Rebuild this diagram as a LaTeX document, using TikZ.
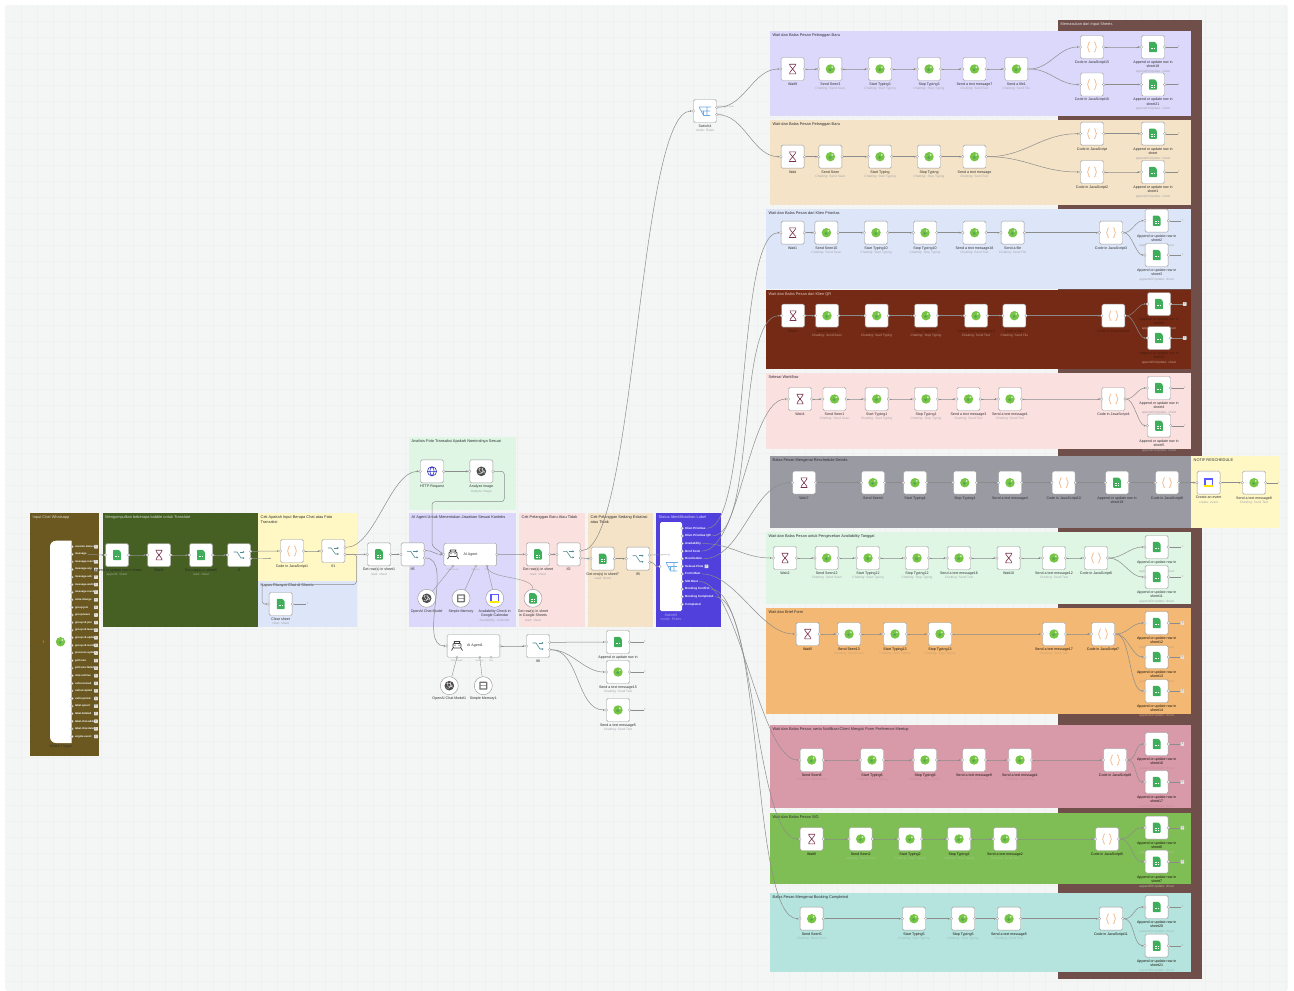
\documentclass[tikz,border=0pt]{standalone}
\usepackage{fontspec}
\setmainfont{Liberation Sans}
\usetikzlibrary{arrows.meta,calc}
\definecolor{canvasc}{HTML}{F4F5F5}
\definecolor{gridc}{HTML}{EFF0F0}
\definecolor{olivec}{HTML}{6A5820}
\definecolor{dgreenc}{HTML}{466024}
\definecolor{yelc}{HTML}{FFF8C5}
\definecolor{bluec}{HTML}{DDE6F8}
\definecolor{mintc}{HTML}{DFF6E5}
\definecolor{purc}{HTML}{DCD8FC}
\definecolor{pinkc}{HTML}{FBE0E0}
\definecolor{tanc}{HTML}{F4E3C6}
\definecolor{indc}{HTML}{5140DC}
\definecolor{brownc}{HTML}{704E4A}
\definecolor{redc}{HTML}{742A14}
\definecolor{greyc}{HTML}{999AA2}
\definecolor{orangec}{HTML}{F3B873}
\definecolor{rosec}{HTML}{D89AA9}
\definecolor{grassc}{HTML}{7FBD55}
\definecolor{tealc}{HTML}{B5E3DD}
\definecolor{linec}{HTML}{8C8C8C}
\definecolor{labc}{HTML}{2F2F35}
\definecolor{subc}{HTML}{A5A5AC}
\definecolor{gsheet}{HTML}{3FAE5A}
\definecolor{wagreen}{HTML}{77C545}
\definecolor{hourc}{HTML}{7A2E4D}
\definecolor{codec}{HTML}{F2BE92}
\definecolor{swc}{HTML}{4E8A93}
\definecolor{filtc}{HTML}{6AA9E9}
\tikzset{
 nbox/.style={draw=black!40,fill=white,rounded corners=1.5pt,minimum width=23pt,minimum height=23pt,inner sep=0pt,line width=.45pt},
 cbox/.style={draw=black!40,fill=white,circle,minimum size=18pt,inner sep=0pt,line width=.45pt},
 abox/.style={draw=black!40,fill=white,rounded corners=1.5pt,minimum width=52.7pt,minimum height=22.5pt,inner sep=0pt,line width=.45pt},
 lab/.style={anchor=north,align=center,inner sep=0pt,text=labc,font=\fontsize{3.6}{4.5}\selectfont},
 ptitle/.style={anchor=north west,align=left,inner sep=0pt,font=\fontsize{3.9}{4.8}\selectfont},
 tiny/.style={inner sep=0pt,text=subc,font=\fontsize{2.2}{2.6}\selectfont},
 pill/.style={anchor=west,inner sep=0pt,text=white,font=\bfseries\fontsize{2.7}{3}\selectfont},
 conn/.style={draw=linec,line width=.5pt,shorten >=1.4pt,shorten <=1.2pt,-{Stealth[length=2pt,width=2pt]}},
 stub/.style={draw=linec,line width=.4pt,shorten <=1.2pt},
 aux/.style={draw=linec,line width=.35pt},
 port/.style={fill=white,draw=black!40,line width=.3pt},
 tailplain/.style={inner sep=0pt,text=linec,font=\fontsize{3}{3}\selectfont},
 tailbox/.style={inner sep=0pt,minimum size=3.6pt,fill=black!12,rounded corners=.4pt,text=black!60,font=\fontsize{3}{3}\selectfont},
 tailst/.style={tailplain},
 plusbox/.style={inner sep=0pt,minimum size=3.6pt,fill=black!12,rounded corners=.4pt,text=black!60,font=\fontsize{3}{3}\selectfont},
}
\newcommand{\oneport}[1]{\filldraw[port] (#1.east) circle (1.3);}
\newcommand{\twoport}[1]{\coordinate (#1-a) at ($(#1.east)+(0,-3.7)$);\coordinate (#1-b) at ($(#1.east)+(0,3.7)$);\filldraw[port] (#1-a) circle (1.3);\filldraw[port] (#1-b) circle (1.3);}
\let\portsheet\oneport \let\portwa\oneport \let\portwait\oneport \let\portcode\oneport
\let\portglobe\oneport \let\portknot\oneport \let\portcal\oneport
\let\portsw\twoport \let\portfl\twoport
\newcommand{\iconsheet}{\fill[gsheet,rounded corners=.7] (-3.8,-5.2) -- (1.6,-5.2) -- (3.8,-3) -- (3.8,5.2) -- (-3.8,5.2) -- cycle;\fill[white] (-1.9,.5) rectangle (1.9,3.2);\fill[gsheet] (-.2,.5) rectangle (.2,3.2);\fill[gsheet] (-1.9,1.6) rectangle (1.9,2);}
\newcommand{\iconwa}{\fill[wagreen] (0,0) circle (4.7);\fill[green!45!black!65] (-.4,.8) circle (1.5);\fill[white!70!wagreen] (1.8,-1.8) circle (1);}
\newcommand{\iconwait}{\draw[hourc,line width=.6pt] (-3.4,-4.8) -- (3.4,-4.8) (-3.4,4.8) -- (3.4,4.8) (-2.7,-4.8) -- (-2.7,-3.3) -- (2.7,3.3) -- (2.7,4.8) (2.7,-4.8) -- (2.7,-3.3) -- (-2.7,3.3) -- (-2.7,4.8);}
\newcommand{\iconcode}{\draw[codec,line width=.8pt] (-2.2,-5) .. controls (-4,-5) and (-2.8,-1) .. (-4.4,0) .. controls (-2.8,1) and (-4,5) .. (-2.2,5) (2.2,-5) .. controls (4,-5) and (2.8,-1) .. (4.4,0) .. controls (2.8,1) and (4,5) .. (2.2,5);}
\newcommand{\iconsw}{\draw[swc,line width=.6pt,-{Stealth[length=1.8pt,width=2pt]}] (-5.5,-3) -- (-2,-3) -- (2,3) -- (5.5,3);\draw[swc,line width=.6pt,-{Stealth[length=1.8pt,width=2pt]}] (.5,-3) -- (5.5,-3);}
\newcommand{\iconfl}{\draw[filtc,line width=.6pt] (-6,-4) -- (6,-4) (-6,-4) -- (-1.5,4.5) -- (5,4.5) (-3.8,0) -- (5,0) (-1.5,0) -- (-1.5,4.5) (2,-4) -- (2,4.5);}
\newcommand{\iconglobe}{\draw[blue!70!black!80,line width=.6pt] (0,0) circle (4.6) (0,-4.6) .. controls (-2.8,-2) and (-2.8,2) .. (0,4.6) .. controls (2.8,2) and (2.8,-2) .. (0,-4.6) (-4.6,0) -- (4.6,0);}
\newcommand{\iconknot}{\fill[black!70] (0,0) circle (4.8);\draw[white,line width=.3pt] (-3,-2) .. controls (0,-4) and (3,-1) .. (3,2) (-3,2) .. controls (0,4) and (2,1) .. (1,-3.5) (-2,-3.5) .. controls (-3,0) and (0,3) .. (3.5,0);}
\newcommand{\iconcal}{\fill[blue!65] (-4.5,-4.5) rectangle (4.5,4.5);\fill[yellow!90!orange] (-4.5,2.5) rectangle (4.5,4.5);\fill[white] (-3,-3) rectangle (3,2.5);}
\newcommand{\iconmem}{\fill[black!55,rounded corners=.6] (-4,-4) rectangle (4,4);\fill[white] (-2.6,-2.6) rectangle (2.6,-.4) (-2.6,.4) rectangle (2.6,2.6);}
\newcommand{\iconrobot}{\draw[black!75,line width=.7pt,rounded corners=.8] (-4,-2.5) rectangle (4,2);\fill[black!75] (-2,-.8) circle (.7) (2,-.8) circle (.7);\draw[black!75,line width=.7pt] (-5.5,4.5) -- (-4,2) (5.5,4.5) -- (4,2) (-2,-2.5) -- (-3,-4.5) (2,-2.5) -- (3,-4.5) (-3,-4.5) -- (3,-4.5);}
% node: id x y kind label sub
\newcommand{\nd}[6]{\node[nbox] (#1) at (#2,#3) {};
 \filldraw[port] (#1.west) circle (1.3);
 \csname port#4\endcsname{#1}
 \begin{scope}[shift={(#2,#3)}]\csname icon#4\endcsname\end{scope}
 \node[lab] (#1-l) at (#2,#3+13.5) {#5\\{\fontsize{3.2}{4.4}\selectfont\color{subc}#6}};}
\newcommand{\cnd}[6]{\node[cbox] (#1) at (#2,#3) {};
 \begin{scope}[shift={(#2,#3)}]\csname icon#4\endcsname\end{scope}
 \node[lab] (#1-l) at (#2,#3+11) {#5\\{\fontsize{3.2}{4.4}\selectfont\color{subc}#6}};}
\newcommand{\cApp}{appendOrUpdate: sheet}
\newcommand{\cSeen}{Chatting: Send Seen}
\newcommand{\cStart}{Chatting: Start Typing}
\newcommand{\cStop}{Chatting: Stop Typing}
\newcommand{\cText}{Chatting: Send Text}
\newcommand{\cFile}{Chatting: Send File}
\newcommand{\tlb}[1]{\path (#1.east) ++(14,0) node[tailst] (#1-t) {+};\draw[stub] (#1.east) -- (#1-t);}
\newcommand{\shn}[4]{\nd{#1}{#2}{#3}{sheet}{Append or update row in\\#4}{\cApp}\tlb{#1}}
\newcommand{\lnk}[3][14pt]{\draw[conn] (#2.east) to[out=0,in=180,distance=#1] (#3.west);}
\newcommand{\lnks}[1]{\foreach \fa/\fb in {#1}{\lnk{\fa}{\fb}}}
\newcommand{\panel}[7]{\fill[#5] (#1,#2) rectangle (#3,#4);\node[ptitle,text=#7] at (#1+2.5,#2+2.5) {#6};}
\begin{document}
\begin{tikzpicture}[x=1pt,y=-1pt]
\useasboundingbox (0,0) rectangle (1294,991);
\fill[white] (0,0) rectangle (1294,991);
\fill[canvasc,rounded corners=3] (5,5) rectangle (1288,991);
\foreach \gx in {21,37,...,1285}{\draw[gridc,line width=.2pt] (\gx,5) -- (\gx,991);}
\foreach \gy in {21,37,...,990}{\draw[gridc,line width=.2pt] (5,\gy) -- (1288,\gy);}
% ---------- panels
\panel{1058}{20}{1202}{979}{brownc}{Memasukan dari Input Sheets}{white!85!brownc}
\panel{30}{513}{99}{755.5}{olivec}{Input Chat Whatsapp}{white!75!olivec}
\panel{102.7}{513}{258}{627}{dgreenc}{Mengumpulkan beberapa bubble untuk Translate}{white!75!dgreenc}
\panel{258}{513}{357}{581}{yelc}{Cek Apakah Input Berupa Chat atau Foto\\Transaksi}{labc}
\panel{258}{581}{357}{627}{bluec}{Hapus Riwayat Chat di Sheets}{labc}
\panel{409}{437}{516}{510}{mintc}{Analisis Foto Transaksi Apakah Nominalnya Sesuai}{labc}
\panel{409}{513}{516}{627}{purc}{AI Agent Untuk Menentukan Jawaban Sesuai Konteks}{labc}
\panel{519}{513}{585}{627}{pinkc}{Cek Pelanggan Baru Atau Tidak}{labc}
\panel{588}{513}{653}{627}{tanc}{Cek Pelanggan Sedang Eskalasi\\atau Tidak}{labc}
\panel{656}{513}{721}{627}{indc}{Status Identifikasikan Label}{white!75!indc}
\panel{770}{31}{1191}{116}{purc}{Wait dan Balas Pesan Pelanggan Baru}{labc}
\panel{770}{120}{1191}{205}{tanc}{Wait dan Balas Pesan Pelanggan Baru}{labc}
\panel{766}{209}{1191}{289}{bluec}{Wait dan Balas Pesan dari Klien Prioritas}{labc}
\panel{766}{290}{1191}{369}{redc}{Wait dan Balas Pesan dari Klien QR}{white!75!redc}
\panel{766}{373}{1191}{449}{pinkc}{Selesai Workflow}{labc}
\panel{770}{456}{1191}{528}{greyc}{Balas Pesan Mengenai Reschedule Details}{labc}
\panel{1191}{456}{1279}{528}{yelc}{NOTIF RESCHEDULE}{labc}
\panel{766}{532}{1191}{604}{mintc}{Wait dan Balas Pesan untuk Pengecekan Availability Tanggal}{labc}
\panel{766}{608}{1191}{714}{orangec}{Wait dan Brief Form}{labc}
\panel{770}{725}{1191}{808}{rosec}{Wait dan Balas Pesan, serta Notifikasi Client Mengisi Form Preference Meetup}{labc}
\panel{770}{813}{1191}{884}{grassc}{Wait dan Balas Pesan SIG}{labc}
\panel{770}{893}{1191}{972}{tealc}{Balas Pesan Mengenai Booking Completed}{labc}
% ---------- trigger
\fill[white,rounded corners=6] (71.7,540.7) -- (50,540.7) -- (50,743) [sharp corners] -- (71.7,743) -- cycle;
\node[inner sep=0pt,minimum width=21.7pt,minimum height=202pt] (trg) at (60.8,641.8) {};
\begin{scope}[shift={(60.5,641.8)}]\iconwa\end{scope}
\node[lab,text=black!80] (trg-l) at (60.8,745) {WAHA Trigger};
\fill[orange!80!black] (43.3,640.3) -- (44.2,640.3) -- (43.8,641.5) -- (44.6,641.5) -- (43,643.4) -- (43.3,642) -- (42.6,642) -- cycle;
\foreach \nm [count=\i] in {session.status,message,message.reaction,message.any,message.ack,message.waiting,message.revoked,state.change,group.join,group.leave,group.v2.join,group.v2.leave,group.v2.update,group.v2.member,presence.update,poll.vote,poll.vote.failed,chat.archive,call.received,call.accepted,call.rejected,label.upsert,label.deleted,label.chat.added,label.chat.deleted,engine.event}{
 \pgfmathsetmacro{\ty}{546.7+7.59*(\i-1)}
 \filldraw[port] (72,\ty) circle (1.3);
 \node[pill] (t\i) at (74.8,\ty) {\nm};
 \ifnum\i=2\else\node[plusbox] (tp\i) at (96,\ty) {+};\fi
}
% ---------- dark green group
\colorlet{labc}{black!85}
\colorlet{subc}{white!45!dgreenc}
\nd{g1}{117}{555}{sheet}{Append or update row in sheet}{append: sheet}
\nd{g2}{159}{555}{wait}{Wait8}{}
\nd{g3}{201}{555}{sheet}{Get row(s) in sheet5}{read: sheet}
\nd{g4}{239}{555}{sw}{If}{}
\colorlet{labc}{black!82}
\definecolor{subc}{HTML}{A5A5AC}
% ---------- yellow / blue groups
\nd{y1}{292}{551}{code}{Code in JavaScript1}{}
\nd{y2}{333.3}{551}{sw}{If1}{}
\nd{y3}{280.7}{604}{sheet}{Clear sheet}{clear: sheet}
\path (y3.east) ++(15,0) node[tailplain] (y3-t) {+};
\coordinate (g4-e) at (270,558.3);
% ---------- middle row
\nd{m1}{379}{554.3}{sheet}{Get row(s) in sheet1}{read: sheet}
\nd{m2}{412.7}{554.3}{sw}{If6}{}
\node[abox] (ag) at (470.3,554.5) {};
\filldraw[port] (ag.west) circle (1.3); \filldraw[port] (ag.east) circle (1.3);
\begin{scope}[shift={(453,554.5)}]\iconrobot\end{scope}
\node[inner sep=0pt,text=labc,font=\fontsize{3.6}{4}\selectfont] (ag-t) at (470.5,554.5) {AI Agent};
\nd{m3}{538}{554.3}{sheet}{Get row(s) in sheet}{read: sheet}
\nd{m4}{568.7}{554.3}{sw}{If2}{}
\nd{m5}{602.7}{558.7}{sheet}{Get row(s) in sheet7}{read: sheet}
\nd{m6}{638}{558.7}{sw}{If5}{}
\nd{h1}{432}{471.3}{globe}{HTTP Request}{}
\nd{h2}{481.3}{471.3}{knot}{Analyze image}{Analyze image}
\cnd{c1}{426.7}{598.3}{knot}{OpenAI Chat Model}{}
\cnd{c2}{461}{598.3}{mem}{Simple Memory}{}
\cnd{c3}{494.7}{598.3}{cal}{Availability Check in\\Google Calendar}{Availability: Calendar}
\cnd{c4}{533}{598.3}{sheet}{Get row(s) in sheet\\in Google Sheets}{read: sheet}
\coordinate (p1) at (453,566);\coordinate (p2) at (475.7,566);\coordinate (p3) at (487,566);
\foreach \pp in {p1,p2,p3}{\filldraw[port] (\pp) circle (1.2);}
\node[tiny] (p1-l) at (453,570) {Chat Model*};
\node[tiny] (p2-l) at (475.7,570) {Memory};
\node[tiny] (p3-l) at (487,570) {Tool};
% ---------- lower agent
\node[abox] (ag2) at (473.5,646) {};
\filldraw[port] (ag2.west) circle (1.3); \filldraw[port] (ag2.east) circle (1.3);
\begin{scope}[shift={(457,646)}]\iconrobot\end{scope}
\node[inner sep=0pt,text=labc,font=\fontsize{3.6}{4}\selectfont] (ag2-t) at (475,646) {AI Agent1};
\nd{n1}{538}{646}{sw}{If8}{}
\nd{n2}{618}{642}{sheet}{Append or update row in}{}
\nd{n3}{618}{672}{wa}{Send a text message15}{\cText}
\nd{n4}{618}{710}{wa}{Send a text message5}{\cText}
\cnd{c5}{449.3}{685.7}{knot}{OpenAI Chat Model1}{}
\cnd{c6}{483.3}{685.7}{mem}{Simple Memory1}{}
\coordinate (q1) at (457,657.2);\coordinate (q2) at (479.7,657.2);\coordinate (q3) at (491,657.2);
\foreach \pp in {q1,q2,q3}{\filldraw[port] (\pp) circle (1.2);}
\node[tiny] (q1-l) at (457,661) {Chat Model*};
\node[tiny] (q2-l) at (479.7,661) {Memory};
\node[tiny] (q3-l) at (491,661) {Tool};
\foreach \nn in {n2,n3,n4}{\path (\nn.east) ++(15,0) node[tailplain] (\nn-t) {+};\draw[stub] (\nn.east) -- (\nn-t);}
% ---------- indigo switch
\node[nbox,draw=none,minimum width=22pt,minimum height=89pt] (s5) at (671,566.5) {};
\filldraw[port] (s5.west) circle (1.3);
\begin{scope}[shift={(672,566.5)}]\iconfl\end{scope}
\node[lab,text=white!60!indc] (s5-l) at (671,613.5) {Switch5\\{\color{white!50!indc}mode: Rules}};
\foreach \nm [count=\i] in {Klien Prioritas,Klien Prioritas QR,Availability,Brief Form,Reschedule,Selesai Flow,Form Meet,SIG Meet,Booking Confirm,Booking Completed,Completed}{
 \pgfmathsetmacro{\ty}{528.3+7.6*(\i-1)}
 \filldraw[port] (682.3,\ty) circle (1.3);
 \node[pill,font=\bfseries\fontsize{3}{3}\selectfont] (o\i) at (685,\ty) {\nm};
}
\node[plusbox] (o6-p) at (706.5,566.3) {+};
\node[tailplain,minimum size=3pt,fill=black!10,circle] (m6-t) at (668.7,554.7) {};
% ---------- switch 4
\nd{sw}{705}{111}{fl}{Switch4}{mode: Rules}
\node[tiny,anchor=west] (sw-al) at (718,107.3) {Pelanggan Baru};
\node[tiny,anchor=west] (sw-bl) at (718,114.7) {Baru};
% ---------- row A
\colorlet{labc}{black!82}
\nd{a1}{792.6}{69}{wait}{Wait9}{}
\nd{a2}{830.4}{69}{wa}{Send Seen3}{\cSeen}
\nd{a3}{880}{69}{wa}{Start Typing3}{\cStart}
\nd{a4}{929}{69}{wa}{Stop Typing3}{\cStop}
\nd{a5}{974.5}{69}{wa}{Send a text message7}{\cText}
\nd{a6}{1016.4}{69}{wa}{Send a file1}{\cFile}
\nd{a7}{1092}{47}{code}{Code in JavaScript15}{}
\nd{a8}{1092}{84.5}{code}{Code in JavaScript16}{}
\shn{a9}{1153}{47}{sheet18}
\shn{a10}{1153}{84.5}{sheet21}
% ---------- row B
\nd{b1}{792.6}{156.7}{wait}{Wait}{}
\nd{b2}{830.4}{156.7}{wa}{Send Seen}{\cSeen}
\nd{b3}{880}{156.7}{wa}{Start Typing}{\cStart}
\nd{b4}{929}{156.7}{wa}{Stop Typing}{\cStop}
\nd{b5}{974.5}{156.7}{wa}{Send a text message}{\cText}
\nd{b6}{1092}{133.7}{code}{Code in JavaScript}{}
\nd{b7}{1092}{172}{code}{Code in JavaScript2}{}
\shn{b8}{1153}{133.7}{sheet}
\shn{b9}{1153}{172}{sheet1}
% ---------- row C
\nd{c1x}{792.6}{232.7}{wait}{Wait1}{}
\nd{c2x}{826.4}{232.7}{wa}{Send Seen10}{\cSeen}
\nd{c3x}{876}{232.7}{wa}{Start Typing10}{\cStart}
\nd{c4x}{925}{232.7}{wa}{Stop Typing10}{\cStop}
\nd{c5x}{974.5}{232.7}{wa}{Send a text message18}{\cText}
\nd{c6x}{1012.7}{232.7}{wa}{Send a file}{\cFile}
\nd{c7x}{1111}{232.7}{code}{Code in JavaScript3}{}
\shn{c8x}{1156.7}{220.7}{sheet2}
\shn{c9x}{1156.7}{255}{sheet3}
% ---------- row D (dark)
\definecolor{labc}{HTML}{4A1B0D}
\definecolor{subc}{HTML}{C29C8C}
\tikzset{tailst/.style={tailbox}}
\nd{d1}{793}{315.7}{wait}{Wait3}{}
\nd{d2}{827}{315.7}{wa}{Send Seen11}{\cSeen}
\nd{d3}{876.7}{315.7}{wa}{Start Typing11}{\cStart}
\nd{d4}{926}{315.7}{wa}{Stop Typing11}{\cStop}
\nd{d5}{976}{315.7}{wa}{Send a text message19}{\cText}
\nd{d6}{1014.4}{315.7}{wa}{Send a file2}{\cFile}
\nd{d7}{1113.4}{315.7}{code}{Code in JavaScript2}{}
\shn{d8}{1159}{304}{sheet8}
\shn{d9}{1159}{338}{sheet9}
% ---------- row E
\definecolor{labc}{HTML}{2F2F35}
\definecolor{subc}{HTML}{A5A5AC}
\tikzset{tailst/.style={tailplain}}
\nd{e1}{800}{399}{wait}{Wait4}{}
\nd{e2}{834.5}{399}{wa}{Send Seen1}{\cSeen}
\nd{e3}{876.7}{399}{wa}{Start Typing1}{\cStart}
\nd{e4}{926}{399}{wa}{Stop Typing1}{\cStop}
\nd{e5}{968.5}{399}{wa}{Send a text message3}{\cText}
\nd{e6}{1010}{399}{wa}{Send a text message1}{\cText}
\nd{e7}{1113.4}{399}{code}{Code in JavaScript4}{}
\shn{e8}{1159}{388}{sheet4}
\shn{e9}{1159}{425.7}{sheet5}
% ---------- row F
\definecolor{subc}{HTML}{B4B5BB}
\nd{f1}{804}{482.7}{wait}{Wait7}{}
\nd{f2}{873}{482.7}{wa}{Send Seen4}{}
\nd{f3}{915}{482.7}{wa}{Start Typing4}{}
\nd{f4}{964.8}{482.7}{wa}{Stop Typing4}{}
\nd{f5}{1010}{482.7}{wa}{Send a text message4}{}
\nd{f6}{1063.7}{482.7}{code}{Code in JavaScript10}{}
\nd{f7}{1117}{482.7}{sheet}{Append or update row in\\sheet19}{}
\nd{f8}{1167}{482.7}{code}{Code in JavaScript8}{}
\definecolor{subc}{HTML}{A5A5AC}
\nd{f9}{1208.6}{482.7}{cal}{Create an event}{create: event}
\nd{f10}{1254}{482.7}{wa}{Send a text message8}{\cText}
\path (f10.east) ++(13,0) node[tailplain] (f10-t) {+};
\draw[stub] (f10.east) -- (f10-t);
% ---------- row G
\nd{j1}{785}{558}{wait}{Wait2}{}
\nd{j2}{826.7}{558}{wa}{Send Seen12}{\cSeen}
\nd{j3}{868}{558}{wa}{Start Typing12}{\cStart}
\nd{j4}{917}{558}{wa}{Stop Typing12}{\cStop}
\nd{j5}{959}{558}{wa}{Send a text message16}{\cText}
\nd{j6}{1008.7}{558}{wait}{Wait10}{}
\nd{j7}{1054}{558}{wa}{Send a text message12}{\cText}
\nd{j8}{1096}{558}{code}{Code in JavaScript6}{}
\shn{j9}{1156.7}{547}{}
\shn{j10}{1156.7}{577}{sheet11}
% ---------- row H
\colorlet{labc}{black!90!orangec}
\definecolor{subc}{HTML}{CFA070}
\tikzset{tailst/.style={tailbox}}
\nd{k1}{807.7}{634}{wait}{Wait5}{}
\nd{k2}{849}{634}{wa}{Send Seen13}{\cSeen}
\nd{k3}{895}{634}{wa}{Start Typing13}{\cStart}
\nd{k4}{940}{634}{wa}{Stop Typing13}{\cStop}
\nd{k5}{1054}{634}{wa}{Send a text message17}{\cText}
\nd{k6}{1103}{634}{code}{Code in JavaScript7}{}
\shn{k7}{1156.7}{623}{sheet12}
\shn{k8}{1156.7}{657}{sheet13}
\shn{k9}{1156.7}{691}{sheet14}
% ---------- row I
\definecolor{subc}{HTML}{C98C9A}
\nd{r1}{811.7}{760}{wa}{Send Seen6}{\cSeen}
\nd{r2}{872}{760}{wa}{Start Typing6}{\cStart}
\nd{r3}{925}{760}{wa}{Stop Typing6}{\cStop}
\nd{r4}{974}{760}{wa}{Send a text message9}{\cText}
\nd{r5}{1020}{760}{wa}{Send a text message1}{\cText}
\nd{r6}{1115}{760}{code}{Code in JavaScript9}{}
\shn{r7}{1156.7}{744}{sheet16}
\shn{r8}{1156.7}{782}{sheet17}
% ---------- row J
\definecolor{subc}{HTML}{A5CC8A}
\nd{s1}{811.7}{839}{wait}{Wait6}{}
\nd{s2}{860.7}{839}{wa}{Send Seen2}{\cSeen}
\nd{s3}{910}{839}{wa}{Start Typing2}{\cStart}
\nd{s4}{959}{839}{wa}{Stop Typing2}{\cStop}
\nd{s6}{1005}{839}{wa}{Send a text message2}{\cText}
\nd{s7}{1107}{839}{code}{Code in JavaScript5}{}
\shn{s8}{1156.7}{827.7}{sheet6}
\shn{s9}{1156.7}{861.7}{sheet7}
% ---------- row K
\definecolor{subc}{HTML}{9DBDB9}
\tikzset{tailst/.style={tailplain}}
\nd{u1}{811.7}{918.7}{wa}{Send Seen5}{\cSeen}
\nd{u2}{914}{918.7}{wa}{Start Typing5}{\cStart}
\nd{u3}{963}{918.7}{wa}{Stop Typing5}{\cStop}
\nd{u4}{1009}{918.7}{wa}{Send a text message5}{\cText}
\nd{u5}{1111}{918.7}{code}{Code in JavaScript11}{}
\shn{u6}{1156.7}{907}{sheet20}
\shn{u7}{1156.7}{945.7}{sheet21}
% ---------- connectors
\lnk{t2}{g1}
\lnks{g1/g2,g2/g3,g3/g4}
\draw[conn] (g4-a) to[out=0,in=180,distance=8pt] (y1.west);
\draw[stub] (g4-b) -- (g4-e);
\fill[linec] (g4-e) circle (.7);
\lnk{y1}{y2}
\draw[stub] (y3.east) -- (y3-t);
\draw[conn] (y2-a) to[out=0,in=180,distance=30pt] (h1.west);
\draw[conn] (y2-b) -- (m1.west);
\draw[conn,rounded corners=3pt] (y2-b) -- (356.5,554) -- (356.5,584.5) -- (262,584.5) -- (262,604) -- (y3.west);
\lnk{m1}{m2}
\draw[conn] (m2-a) to[out=0,in=180,distance=9pt] (ag.west);
\draw[conn] (m2-b) to[out=0,in=180,distance=30pt] (ag2.west);
\lnk{h1}{h2}
\draw[conn,rounded corners=3pt] (h2.east) -- (504.3,471.3) -- (504.3,501.7) -- (432,501.7) -- (432,546) -- (ag.west);
\lnk{ag}{m3}
\lnk{m3}{m4}
\draw[conn] (m4-a) to[out=0,in=180,distance=55pt] (sw.west);
\draw[conn] (m4-b) -- (m5.west);
\lnk{m5}{m6}
\draw[stub] (m6-a) -- (m6-t);
\draw[conn] (m6-b) to[out=0,in=180,distance=5pt] (s5.west);
\lnk{ag2}{n1}
\draw[conn] (n1-a) to[out=0,in=180,distance=20pt] (n2.west);
\draw[conn] (n1-b) to[out=0,in=180,distance=22pt] (n3.west);
\draw[conn] (n1-b) to[out=0,in=180,distance=30pt] (n4.west);
\foreach \pa/\pb in {c1/p1,c2/p2,c3/p3,c5/q1,c6/q2}{\draw[aux] (\pa) -- (\pb);}
\draw[aux] (c4.north) to[out=90,in=-90,distance=14pt] (p3);
\draw[conn] (sw-a) to[out=0,in=180,distance=28pt] (a1.west);
\draw[conn] (sw-b) to[out=0,in=180,distance=28pt] (b1.west);
\lnk[45pt]{o1}{c1x}
\lnk[45pt]{o2}{d1}
\lnk[40pt]{o4}{e1}
\lnk[40pt]{o5}{f1}
\lnk[30pt]{o3}{j1}
\lnk[35pt]{o7}{k1}
\lnk[40pt]{o8}{r1}
\lnk[45pt]{o9}{s1}
\lnk[50pt]{o10}{u1}
\lnks{a1/a2,a2/a3,a3/a4,a4/a5,a5/a6,a7/a9,a8/a10}
\lnk[22pt]{a6}{a7}
\lnk[22pt]{a6}{a8}
\lnks{b1/b2,b2/b3,b3/b4,b4/b5,b6/b8,b7/b9}
\lnk[40pt]{b5}{b6}
\lnk[40pt]{b5}{b7}
\lnks{c1x/c2x,c2x/c3x,c3x/c4x,c4x/c5x,c5x/c6x,c6x/c7x}
\lnk[9pt]{c7x}{c8x}
\lnk[9pt]{c7x}{c9x}
\lnks{d1/d2,d2/d3,d3/d4,d4/d5,d5/d6,d6/d7}
\lnk[9pt]{d7}{d8}
\lnk[9pt]{d7}{d9}
\lnks{e1/e2,e2/e3,e3/e4,e4/e5,e5/e6,e6/e7}
\lnk[9pt]{e7}{e8}
\lnk[9pt]{e7}{e9}
\lnks{f1/f2,f2/f3,f3/f4,f4/f5,f5/f6,f6/f7,f7/f8,f8/f9,f9/f10}
\lnks{j1/j2,j2/j3,j3/j4,j4/j5,j5/j6,j6/j7,j7/j8}
\lnk[15pt]{j8}{j9}
\lnk[15pt]{j8}{j10}
\lnks{k1/k2,k2/k3,k3/k4,k4/k5,k5/k6}
\lnk[13pt]{k6}{k7}
\lnk[13pt]{k6}{k8}
\lnk[16pt]{k6}{k9}
\lnks{r1/r2,r2/r3,r3/r4,r4/r5,r5/r6}
\lnk[10pt]{r6}{r7}
\lnk[10pt]{r6}{r8}
\lnks{s1/s2,s2/s3,s3/s4,s4/s6,s6/s7}
\lnk[14pt]{s7}{s8}
\lnk[14pt]{s7}{s9}
\lnks{u1/u2,u2/u3,u3/u4,u4/u5}
\lnk[12pt]{u5}{u6}
\lnk[12pt]{u5}{u7}
\end{tikzpicture}
\end{document}
